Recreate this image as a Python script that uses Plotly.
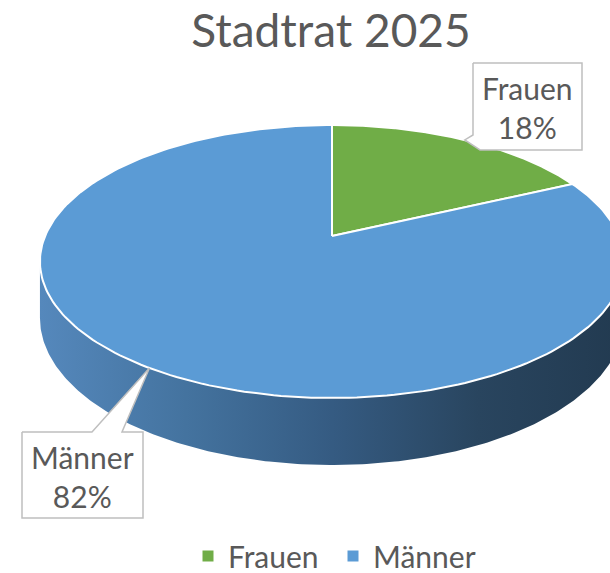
import numpy as np
import plotly.graph_objects as go

# ---- data ----
labels = ["Frauen", "Männer"]
values = [18, 82]
title_text = "Stadtrat 2025"

# ---- style ----
top_colors = ["#70AD47", "#5B9BD5"]
side_scale = [[0.0, "#5588BC"], [0.25, "#44739F"], [0.5, "#355B82"],
              [0.75, "#29455F"], [1.0, "#223A50"]]
text_color = "#595959"
FONT = "Lato"
W, H = 610, 573

# projection of the (3D) pie: centre, radii, perspective, thickness (px)
X0, Y0 = 332.0, 236.0
A, B, P, T = 286.9, 131.7, 0.187, 54.5


def proj(theta_deg, depth=0.0):
    th = np.radians(theta_deg)
    u, v = np.sin(th), np.cos(th)
    w = 1 + P * v
    return X0 + A * u / w, Y0 - B * v / w + T * depth / w


total = float(sum(values))
angles = np.cumsum([0] + [v / total * 360 for v in values])

fig = go.Figure()

# side wall (front visible part)
t1 = np.degrees(np.arccos(-P))
t2 = 360 - t1
ths = np.linspace(t1, t2, 240)
xt, yt = proj(ths, 0)
xb, yb = proj(ths[::-1], 1)
fig.add_trace(go.Scatter(
    x=np.concatenate([xt, xb]), y=np.concatenate([yt, yb]),
    fill="toself", mode="lines", line=dict(width=0, color="rgba(0,0,0,0)"),
    fillgradient=dict(type="horizontal", colorscale=side_scale),
    hoverinfo="skip", showlegend=False))

# top slices
for i, lab in enumerate(labels):
    th = np.linspace(angles[i], angles[i + 1], 240)
    xr, yr = proj(th, 0)
    xs = np.concatenate([[X0], xr, [X0]])
    ys = np.concatenate([[Y0], yr, [Y0]])
    fig.add_trace(go.Scatter(
        x=xs, y=ys, fill="toself", mode="lines",
        fillcolor=top_colors[i], line=dict(color="white", width=2),
        hoverinfo="skip", showlegend=False))

# legend entries
for i, lab in enumerate(labels):
    fig.add_trace(go.Scatter(
        x=[None], y=[None], mode="markers", name=lab,
        marker=dict(symbol="square", size=11, color=top_colors[i])))

# callout labels
boxes = {
    "Frauen": dict(x0=473, x1=582, y0=63, y1=150, side="left"),
    "Männer": dict(x0=22, x1=143, y0=432, y1=518, side="top"),
}
for i, lab in enumerate(labels):
    mid = (angles[i] + angles[i + 1]) / 2
    tx, ty = proj(mid, 0)
    b = boxes[lab]
    if b["side"] == "left":
        px = [b["x0"], b["x1"], b["x1"], b["x0"] + 7, tx, b["x0"], b["x0"]]
        py = [b["y0"], b["y0"], b["y1"], b["y1"], ty, b["y1"] - 15, b["y0"]]
    else:
        px = [b["x0"], b["x0"] + 70, tx, b["x0"] + 100, b["x1"], b["x1"], b["x0"], b["x0"]]
        py = [b["y0"], b["y0"], ty, b["y0"], b["y0"], b["y1"], b["y1"], b["y0"]]
    fig.add_trace(go.Scatter(
        x=px, y=py, fill="toself", mode="lines", fillcolor="white",
        line=dict(color="#BFBFBF", width=1.5), hoverinfo="skip", showlegend=False))
    pct = round(values[i] / total * 100)
    fig.add_annotation(
        x=(b["x0"] + b["x1"]) / 2, y=(b["y0"] + b["y1"]) / 2 + 1,
        text=f"{lab}<br>{pct}%", showarrow=False,
        font=dict(family=FONT, size=30, color=text_color),
        xanchor="center", yanchor="middle")

fig.update_layout(
    width=W, height=H,
    margin=dict(l=0, r=0, t=0, b=0, autoexpand=False),
    paper_bgcolor="white", plot_bgcolor="white",
    xaxis=dict(range=[0, W], visible=False, fixedrange=True),
    yaxis=dict(range=[H, 0], visible=False, fixedrange=True),
    title=dict(text=title_text, x=331 / W, xanchor="center",
               y=1 - 31 / H, yanchor="middle",
               font=dict(family=FONT, size=46, color=text_color)),
    legend=dict(orientation="h", x=188 / W, xanchor="left",
                y=1 - 556 / H, yanchor="middle",
                entrywidth=100, entrywidthmode="pixels",
                font=dict(family=FONT, size=30, color=text_color),
                bgcolor="rgba(0,0,0,0)"),
    showlegend=True,
)

fig.write_html(
    "out.html",
    config={"displayModeBar": False},
    post_script="document.body.style.margin='0px';"
                "document.body.style.overflow='hidden';")
